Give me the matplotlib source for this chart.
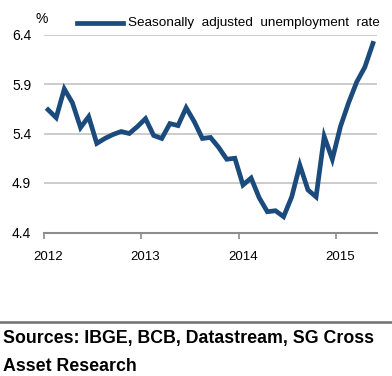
import matplotlib
matplotlib.use("Agg")
import matplotlib.pyplot as plt
from matplotlib.lines import Line2D

plt.rcParams['font.family'] = ['Liberation Sans', 'DejaVu Sans']

rate_2012 = [5.64, 5.56, 5.85, 5.71, 5.46, 5.57, 5.30, 5.35, 5.39, 5.42, 5.40, 5.47]
rate_2013 = [5.55, 5.38, 5.35, 5.50, 5.48, 5.66, 5.52, 5.35, 5.36, 5.26, 5.14, 5.15]
rate_2014 = [4.88, 4.95, 4.75, 4.61, 4.62, 4.56, 4.76, 5.08, 4.83, 4.76, 5.37, 5.14]
rate_2015 = [5.47, 5.71, 5.92, 6.07, 6.31]
years = ['2012', '2013', '2014', '2015']
y_ticks = [4.4, 4.9, 5.4, 5.9, 6.4]
series_label = 'Seasonally  adjusted  unemployment  rate'
source_text = 'Sources: IBGE, BCB, Datastream, SG Cross\nAsset Research'

values = rate_2012 + rate_2013 + rate_2014 + rate_2015
months = list(range(len(values)))

W, H = 392, 376
fig = plt.figure(figsize=(W / 100, H / 100), dpi=100)
fig.patch.set_facecolor('white')

left, right, top, bottom = 44, 377, 34.5, 232.5
ax = fig.add_axes([left / W, 1 - bottom / H, (right - left) / W, (bottom - top) / H])

color = '#1B4A7C'
ax.plot(months, values, color=color, lw=3.4, solid_joinstyle='miter', clip_on=False, zorder=3)

ax.set_xlim(-0.5, 40.5)
ax.set_ylim(4.4, 6.4)

for yv in y_ticks[1:]:
    ax.axhline(yv, color='#C8C8C8', lw=1.3, zorder=1)

for s in ['top', 'right', 'left']:
    ax.spines[s].set_visible(False)
ax.spines['bottom'].set_color('#8C8C8C')
ax.spines['bottom'].set_linewidth(1.5)

ax.set_yticks(y_ticks)
ax.set_yticklabels([f'{v:.1f}' for v in y_ticks])
ax.tick_params(axis='y', length=0, pad=23, labelsize=10)
for lbl in ax.get_yticklabels():
    lbl.set_horizontalalignment('left')

ax.set_xticks([-0.5 + 12 * i for i in range(len(years))])
ax.set_xticklabels([''] * len(years))
ax.tick_params(axis='x', length=4, width=1.2, color='#8C8C8C', direction='out')
for i, yr in enumerate(years):
    ax.text(12 * i, -0.095, yr, transform=ax.get_xaxis_transform(), ha='center', va='top', fontsize=9.5)

fig.text(36 / W, 1 - 19 / H, '%', fontsize=10, ha='left', va='center')

fig.add_artist(Line2D([77 / W, 123 / W], [1 - 23 / H, 1 - 23 / H], color=color, lw=3.4,
                      transform=fig.transFigure))
fig.text(128 / W, 1 - 23 / H, series_label, fontsize=9.7, ha='left', va='center')

fig.add_artist(Line2D([0, 1], [1 - 322 / H, 1 - 322 / H], color='#6E6E6E', lw=1.8,
                      transform=fig.transFigure))
fig.text(3 / W, 1 - 330 / H, source_text, fontsize=12.8, fontweight='bold', ha='left', va='top',
         linespacing=1.85)

fig.savefig('out.png', dpi=100, facecolor='white')
